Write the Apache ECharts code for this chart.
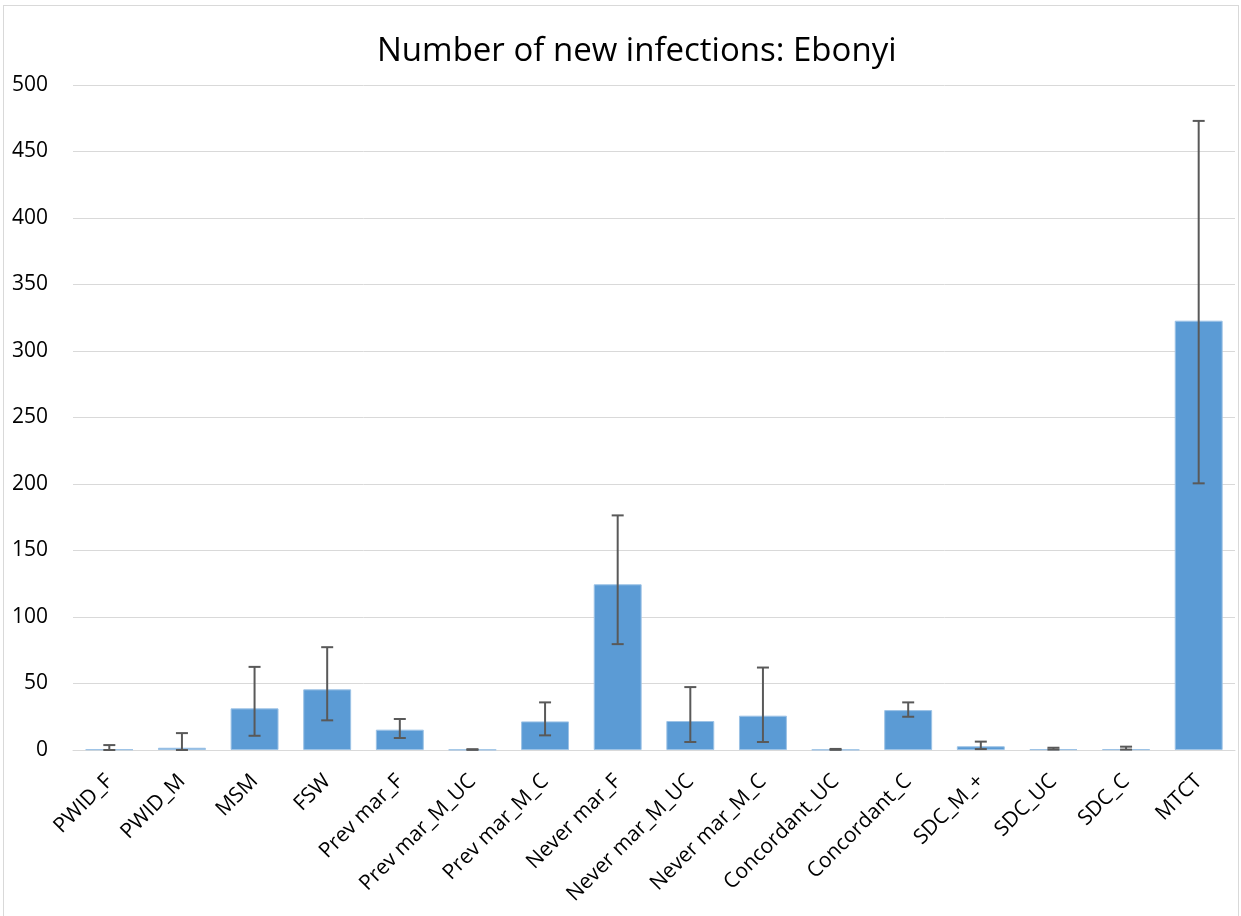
<!DOCTYPE html>
<html>
<head>
<meta charset="utf-8">
<script src="https://cdn.jsdelivr.net/npm/echarts@6/dist/echarts.min.js"></script>
<style>
html, body { margin: 0; padding: 0; background: #fff; }
#chart { position: absolute; left: 3px; top: 5px; width: 1236px; height: 912px; border: 1px solid #d9d9d9; box-sizing: border-box; }
</style>
</head>
<body>
<div id="chart"></div>
<script>
var categories = ['PWID_F', 'PWID_M', 'MSM', 'FSW', 'Prev mar_F', 'Prev mar_M_UC', 'Prev mar_M_C',
  'Never mar_F', 'Never mar_M_UC', 'Never mar_M_C', 'Concordant_UC', 'Concordant_C',
  'SDC_M_+', 'SDC_UC', 'SDC_C', 'MTCT'];
var values = [0.5, 1.7, 31.3, 45.6, 15.3, 0.3, 21.5, 124.6, 21.8, 25.8, 0.3, 30, 2.8, 0.6, 0.6, 322.8];
var lower = [0, 0, 10.7, 22.3, 9, 0.1, 11, 79.6, 6, 6, 0.1, 25, 0.7, 0.3, 0.3, 200.5];
var upper = [3.7, 12.7, 62.5, 77.3, 23.3, 0.6, 35.8, 176.4, 47.3, 62, 0.8, 35.8, 6.3, 1.7, 2.5, 473];
var yTicks = [0, 50, 100, 150, 200, 250, 300, 350, 400, 450, 500];

var chart = echarts.init(document.getElementById('chart'));

var errData = categories.map(function(c, i) { return [i, lower[i], upper[i]]; });

chart.setOption({
  animation: false,
  title: {
    text: 'Number of new infections: Ebonyi',
    left: 368,
    top: 24,
    textStyle: { fontFamily: 'Open Sans', fontWeight: 'normal', fontSize: 33, color: '#000' }
  },
  grid: { left: 69, right: 3, top: 79, bottom: 166 },
  xAxis: {
    type: 'category',
    data: categories,
    axisLine: { lineStyle: { color: '#d9d9d9', width: 1 } },
    axisTick: { show: false },
    axisLabel: { rotate: 45, fontFamily: 'Open Sans', fontSize: 21, color: '#000', margin: 28, interval: 0 }
  },
  yAxis: {
    type: 'value',
    min: yTicks[0],
    max: yTicks[yTicks.length - 1],
    interval: 50,
    axisLine: { show: false },
    axisTick: { show: false },
    splitLine: { lineStyle: { color: '#d9d9d9', width: 1 } },
    axisLabel: { fontFamily: 'Open Sans', fontSize: 21, color: '#000', margin: 25 }
  },
  series: [
    {
      type: 'bar',
      data: values,
      barCategoryGap: '34%',
      itemStyle: { color: '#5b9bd5', borderColor: '#9dc3e6', borderWidth: 1 }
    },
    {
      type: 'custom',
      data: errData,
      z: 10,
      renderItem: function(params, api) {
        var x = api.value(0);
        var lo = api.coord([x, api.value(1)]);
        var hi = api.coord([x, api.value(2)]);
        var hw = 6;
        var style = { stroke: '#595959', lineWidth: 2 };
        return {
          type: 'group',
          children: [
            { type: 'line', shape: { x1: lo[0], y1: lo[1], x2: hi[0], y2: hi[1] }, style: style },
            { type: 'line', shape: { x1: hi[0] - hw, y1: hi[1], x2: hi[0] + hw, y2: hi[1] }, style: style },
            { type: 'line', shape: { x1: lo[0] - hw, y1: lo[1], x2: lo[0] + hw, y2: lo[1] }, style: style }
          ]
        };
      }
    }
  ]
});
</script>
</body>
</html>
